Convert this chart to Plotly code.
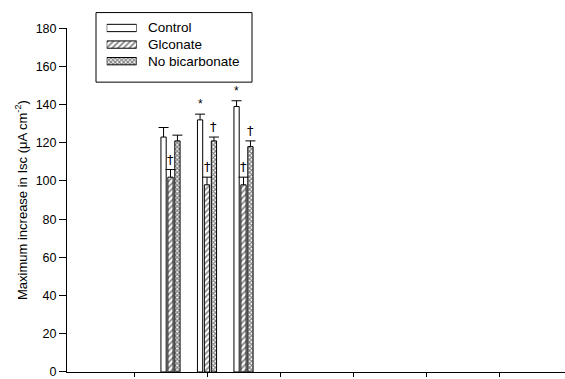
import plotly.graph_objects as go

# ---- data ----
group_pos = [1.5, 2.0, 2.5]
series_names = ["Control", "Glconate", "No bicarbonate"]
control = [123, 132, 139]
control_err = [5, 3, 3]
gluconate = [102, 98, 98]
gluconate_err = [4, 4, 4]
no_bicarb = [121, 121, 118]
no_bicarb_err = [3, 2, 3]
control_marks = ["", "*", "*"]
gluconate_marks = ["†", "†", "†"]
no_bicarb_marks = ["", "†", "†"]
y_ticks = [0, 20, 40, 60, 80, 100, 120, 140, 160, 180]
x_ticks = [1, 2, 3, 4, 5, 6, 7]

# ---- geometry / style ----
W, H = 565, 379
ML, MR, MT, MB = 67, 0, 0, 5
PW, PH = W - ML - MR, H - MT - MB
X_RANGE = [0.0822, 6.904]
Y_DOMAIN_TOP = (PH - 21.7) / PH
BAR_W = 0.072
OFFSETS = [-0.095, 0.0, 0.095]
CAP_HALF = 5 / 73.0
FONT = "Liberation Sans, Arial, sans-serif"
MARK_FONT = "DejaVu Sans, sans-serif"

markers = [
    dict(color="white", line=dict(color="black", width=1)),
    dict(color="white", line=dict(color="black", width=1),
         pattern=dict(shape="/", fgcolor="black", size=4, solidity=0.4)),
    dict(color="white", line=dict(color="black", width=1),
         pattern=dict(shape="x", fgcolor="black", size=3, solidity=0.6)),
]

values = [control, gluconate, no_bicarb]
errors = [control_err, gluconate_err, no_bicarb_err]
marks = [control_marks, gluconate_marks, no_bicarb_marks]

fig = go.Figure()

for name, vals, off, mk in zip(series_names, values, OFFSETS, markers):
    fig.add_trace(go.Bar(
        x=[g + off for g in group_pos], y=vals, width=BAR_W,
        name=name, marker=mk, showlegend=False,
    ))

# upper-only error bars with caps
ex, ey = [], []
for vals, errs, off in zip(values, errors, OFFSETS):
    for g, v, e in zip(group_pos, vals, errs):
        xc = g + off
        ex += [xc, xc, None, xc - CAP_HALF, xc + CAP_HALF, None]
        ey += [v, v + e, None, v + e, v + e, None]
fig.add_trace(go.Scatter(x=ex, y=ey, mode="lines",
                         line=dict(color="black", width=1),
                         showlegend=False, hoverinfo="skip"))

# significance symbols above the error caps
annotations = []
for vals, errs, off, mlist in zip(values, errors, OFFSETS, marks):
    for g, v, e, m in zip(group_pos, vals, errs, mlist):
        if m:
            is_star = m == "*"
            annotations.append(dict(
                x=g + off, y=v + e, xref="x", yref="y", text=m,
                showarrow=False, xanchor="center", yanchor="bottom",
                yshift=1,
                font=dict(family=FONT if is_star else MARK_FONT,
                          size=12 if is_star else 13, color="black")))

# legend swatches drawn as bars in their own small axes
def px_x(p):
    return (p - ML) / PW

def px_y(p):
    return (PH - (p - MT)) / PH

row_px = [21.5, 38.5, 55.5]
for i, (name, mk) in enumerate(zip(series_names, markers)):
    fig.add_trace(go.Bar(
        x=[1], y=[i], base=[0], orientation="h", width=0.44,
        marker=mk, xaxis="x2", yaxis="y2", showlegend=False,
        hoverinfo="skip"))
    annotations.append(dict(
        x=px_x(146), y=px_y(row_px[i]), xref="paper", yref="paper",
        text=name, showarrow=False, xanchor="left", yanchor="middle",
        font=dict(family=FONT, size=13.5, color="black")))

fig.add_shape(type="rect", xref="paper", yref="paper",
              x0=px_x(96), x1=px_x(252), y0=px_y(77), y1=px_y(5.7),
              line=dict(color="black", width=1), fillcolor="rgba(0,0,0,0)")

fig.update_layout(
    width=W, height=H,
    margin=dict(l=ML, r=MR, t=MT, b=MB),
    paper_bgcolor="white", plot_bgcolor="white",
    barmode="overlay",
    font=dict(family=FONT, size=12, color="black"),
    annotations=annotations,
    xaxis=dict(range=X_RANGE, showline=True, linecolor="black", linewidth=1,
               ticks="outside", ticklen=4, tickcolor="black",
               tickvals=x_ticks, showticklabels=False,
               showgrid=False, zeroline=False, fixedrange=True),
    yaxis=dict(range=[0, 180], domain=[0, Y_DOMAIN_TOP],
               showline=True, linecolor="black", linewidth=1,
               ticks="outside", ticklen=7, tickcolor="black",
               tickvals=y_ticks, showgrid=False, zeroline=False,
               ticklabeloverflow="allow",
               tickfont=dict(size=12.5),
               title=dict(text="Maximum increase in Isc (μA cm<sup>-2</sup>)",
                          font=dict(size=13), standoff=5),
               fixedrange=True),
    xaxis2=dict(domain=[px_x(106.7), px_x(136.7)], range=[0, 1],
                anchor="y2", visible=False, fixedrange=True),
    yaxis2=dict(domain=[px_y(64), px_y(13)], range=[2.5, -0.5],
                anchor="x2", visible=False, fixedrange=True),
)

fig.write_html("out.html")
